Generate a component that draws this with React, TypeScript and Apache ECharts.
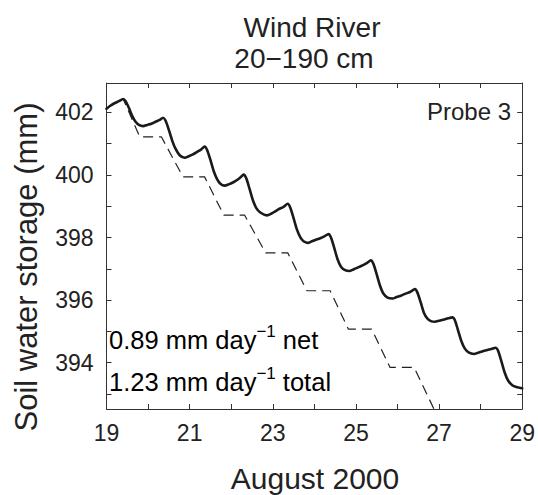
import React, { useEffect, useRef } from "react";
import * as echarts from "echarts";

const solidDays = [
  19.0, 19.1, 19.2, 19.3, 19.4, 19.46, 19.54, 19.62, 19.7, 19.78, 19.88,
  19.98, 20.08, 20.18, 20.28, 20.36, 20.42, 20.5, 20.58, 20.66, 20.76, 20.88,
  20.98, 21.08, 21.18, 21.28, 21.36, 21.42, 21.5, 21.58, 21.66, 21.74, 21.84,
  21.94, 22.04, 22.14, 22.22, 22.3, 22.36, 22.44, 22.52, 22.6, 22.7, 22.86,
  22.96, 23.06, 23.16, 23.26, 23.36, 23.42, 23.5, 23.58, 23.66, 23.74, 23.84,
  23.94, 24.04, 24.14, 24.24, 24.34, 24.4, 24.48, 24.56, 24.64, 24.74, 24.84,
  24.94, 25.04, 25.14, 25.26, 25.36, 25.42, 25.5, 25.58, 25.66, 25.76, 25.88,
  25.98, 26.08, 26.18, 26.3, 26.42, 26.48, 26.56, 26.64, 26.72, 26.82, 26.9,
  27.0, 27.1, 27.22, 27.32, 27.38, 27.46, 27.54, 27.62, 27.72, 27.84,
  27.94, 28.04, 28.14, 28.26, 28.36, 28.42, 28.5, 28.58, 28.66, 28.76, 28.86,
  28.94, 29.0,
];
const solidValues = [
  402.12, 402.22, 402.3, 402.36, 402.43, 402.36, 402.14, 401.88, 401.7, 401.6, 401.56,
  401.6, 401.64, 401.7, 401.76, 401.83, 401.74, 401.44, 401.1, 400.84, 400.63, 400.55,
  400.6, 400.66, 400.74, 400.82, 400.91, 400.8, 400.48, 400.12, 399.87, 399.72, 399.66,
  399.7, 399.76, 399.84, 399.92, 400.01, 399.9, 399.56, 399.2, 398.95, 398.8, 398.71,
  398.76, 398.84, 398.92, 398.98, 399.08, 398.96, 398.62, 398.26, 398.01, 397.88, 397.83,
  397.88, 397.93, 397.98, 398.04, 398.11, 398.0, 397.66, 397.3, 397.07, 396.96, 396.93,
  396.98, 397.04, 397.1, 397.18, 397.27, 397.16, 396.82, 396.46, 396.21, 396.08, 396.05,
  396.1, 396.14, 396.2, 396.26, 396.35, 396.24, 395.92, 395.58, 395.41, 395.32, 395.31,
  395.34, 395.37, 395.42, 395.45, 395.36, 395.02, 394.68, 394.45, 394.32, 394.28,
  394.32, 394.36, 394.4, 394.44, 394.48, 394.38, 394.04, 393.68, 393.43, 393.28, 393.22,
  393.2, 393.18,
];

const dashedDays = [
  19.0, 19.2, 19.4, 19.8, 20.32, 20.84, 21.36, 21.82, 22.32, 22.83, 23.36,
  23.82, 24.38, 24.82, 25.38, 25.82, 26.4, 26.92,
];
const dashedValues = [
  402.12, 402.3, 402.43, 401.22, 401.22, 399.94, 399.94, 398.72, 398.72, 397.51, 397.51,
  396.3, 396.3, 395.07, 395.07, 393.85, 393.85, 392.4,
];

const xTickValues = [19, 20, 21, 22, 23, 24, 25, 26, 27, 28, 29];
const xLabelValues = [19, 21, 23, 25, 27, 29];
const yTickValues = [393, 394, 395, 396, 397, 398, 399, 400, 401, 402];
const yLabelValues = [394, 396, 398, 400, 402];

const titleLines = ["Wind River", "20\u2212190 cm"];
const xName = "August 2000";
const yName = "Soil water storage (mm)";
const probeLabel = "Probe 3";
const netLabel = ["0.89 mm day", "\u22121", " net"];
const totalLabel = ["1.23 mm day", "\u22121", " total"];

const FONT = "'Liberation Sans', Arial, Helvetica, sans-serif";
const TXT = "#222";
const AX = "#333";

export default function App() {
  const ref = useRef<HTMLDivElement>(null);
  useEffect(() => {
    if (!ref.current) return;
    const chart = echarts.init(ref.current, null, { renderer: "svg" });
    const axisCommon = {
      axisLine: { show: true, lineStyle: { color: AX, width: 1 } },
      splitLine: { show: false },
    };
    const xAxisBase = {
      type: "value" as const,
      min: 19,
      max: 29,
      ...axisCommon,
      axisTick: { show: true, inside: true, length: 5, customValues: xTickValues, lineStyle: { color: AX } },
    };
    const yAxisBase = {
      type: "value" as const,
      min: 392.52,
      max: 402.94,
      ...axisCommon,
      axisTick: { show: true, inside: true, length: 5, customValues: yTickValues, lineStyle: { color: AX } },
    };
    const sup = { fontSize: 17, fontFamily: FONT, color: TXT, padding: [0, 0, 17, 0] };
    const main = { fontSize: 25.5, fontFamily: FONT, color: TXT };
    const centered = { align: "center", verticalAlign: "middle", textAlign: "center", textVerticalAlign: "middle" };
    chart.setOption({
      animation: false,
      backgroundColor: "#fff",
      grid: { left: 106.5, right: 14.5, top: 83, bottom: 86, containLabel: false },
      xAxis: [
        {
          ...xAxisBase,
          position: "bottom",
          axisLabel: {
            show: true,
            customValues: xLabelValues,
            margin: 12,
            fontSize: 23,
            fontFamily: FONT,
            color: TXT,
          },
        },
        { ...xAxisBase, position: "top", axisLabel: { show: false } },
      ],
      yAxis: [
        {
          ...yAxisBase,
          position: "left",
          axisLabel: {
            show: true,
            customValues: yLabelValues,
            margin: 13,
            fontSize: 23,
            fontFamily: FONT,
            color: TXT,
          },
        },
        { ...yAxisBase, position: "right", axisLabel: { show: false } },
      ],
      series: [
        {
          type: "line",
          data: dashedDays.map((d, i) => [d, dashedValues[i]]),
          showSymbol: false,
          clip: true,
          lineStyle: { color: "#222", width: 1.2, type: [10, 6] },
          z: 2,
        },
        {
          type: "line",
          data: solidDays.map((d, i) => [d, solidValues[i]]),
          showSymbol: false,
          clip: true,
          smooth: 0.25,
          lineStyle: { color: "#1a1a1a", width: 2.6, join: "round", cap: "round" },
          z: 3,
        },
      ],
      graphic: [
        {
          type: "text",
          x: 312,
          y: 27,
          style: { text: titleLines[0], fill: TXT, font: `28px ${FONT}`, ...centered },
        },
        {
          type: "text",
          x: 304,
          y: 58,
          style: { text: titleLines[1], fill: TXT, font: `28px ${FONT}`, ...centered },
        },
        {
          type: "text",
          x: 315,
          y: 478,
          style: { text: xName, fill: TXT, font: `30px ${FONT}`, ...centered },
        },
        {
          type: "text",
          x: 26,
          y: 267,
          rotation: Math.PI / 2,
          style: { text: yName, fill: TXT, font: `31px ${FONT}`, ...centered },
        },
        {
          type: "text",
          x: 511,
          y: 111,
          style: { text: probeLabel, fill: TXT, font: `24px ${FONT}`, align: "right", verticalAlign: "middle", textAlign: "right", textVerticalAlign: "middle" },
        },
        {
          type: "text",
          x: 109,
          y: 340,
          style: {
            text: `{m|${netLabel[0]}}{s|${netLabel[1]}}{m|${netLabel[2]}}`,
            rich: { m: main, s: sup },
            align: "left",
            verticalAlign: "middle",
            textAlign: "left",
            textVerticalAlign: "middle",
          },
        },
        {
          type: "text",
          x: 109,
          y: 382,
          style: {
            text: `{m|${totalLabel[0]}}{s|${totalLabel[1]}}{m|${totalLabel[2]}}`,
            rich: { m: main, s: sup },
            align: "left",
            verticalAlign: "middle",
            textAlign: "left",
            textVerticalAlign: "middle",
          },
        },
      ],
    });
    return () => chart.dispose();
  }, []);
  return <div ref={ref} style={{ width: 538, height: 495, position: "absolute", left: 0, top: 0 }} />;
}
